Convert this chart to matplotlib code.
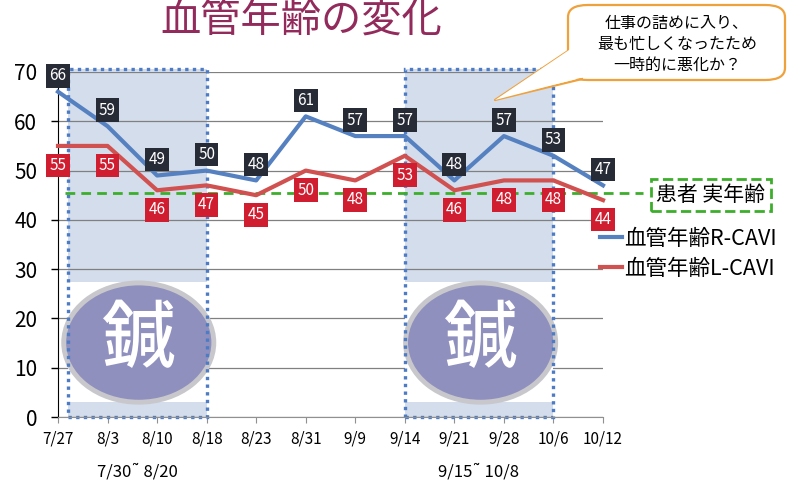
import matplotlib
matplotlib.use("Agg")
import matplotlib.pyplot as plt
from matplotlib import font_manager
from matplotlib.patches import Rectangle, Ellipse, FancyBboxPatch, Polygon
from matplotlib.lines import Line2D

JP = "Noto Sans CJK JP"
avail = {f.name for f in font_manager.fontManager.ttflist}
NARROW = "Liberation Sans Narrow" if "Liberation Sans Narrow" in avail else JP
plt.rcParams["font.family"] = [JP, "DejaVu Sans"]

# data
dates = ["7/27", "8/3", "8/10", "8/18", "8/23", "8/31", "9/9", "9/14",
         "9/21", "9/28", "10/6", "10/12"]
r_cavi = [66, 59, 49, 50, 48, 61, 57, 57, 48, 57, 53, 47]
l_cavi = [55, 55, 46, 47, 45, 50, 48, 53, 46, 48, 48, 44]
real_age = 45.5
period_labels = ["7/30˜ 8/20", "9/15˜ 10/8"]
period_spans = [(0.2, 3.0), (7.0, 10.0)]

BLUE = "#5581C1"
RED = "#D0514F"
GREEN = "#3DAE2B"
SHADE = "#D3DDEB"
W, H = 796, 484


def px(x, y):
    # pixel (from top-left) -> figure fraction
    return x / W, 1 - y / H


fig = plt.figure(figsize=(W / 100, H / 100), dpi=100, facecolor="white")
ax = fig.add_axes([58 / W, 1 - 417 / H, (603 - 58) / W, (417 - 72) / H])
x = list(range(len(dates)))
ax.set_xlim(0, len(dates) - 1)
ax.set_ylim(0, 70)

# grid + spines
ax.set_yticks(range(0, 71, 10))
ax.yaxis.grid(True, color="#808080", lw=0.9, zorder=0.5)
ax.set_axisbelow(True)
for s in ["top", "right"]:
    ax.spines[s].set_visible(False)
ax.spines["left"].set_color("black")
ax.spines["bottom"].set_color("#909090")
ax.tick_params(axis="y", length=5, width=1, pad=10, labelsize=15)
ax.tick_params(axis="x", length=4, width=0.8, color="#909090", pad=6)
ax.set_xticks(x)
ax.set_xticklabels(dates, fontsize=11, family=NARROW)

# treatment periods
for (x0, x1), lab in zip(period_spans, period_labels):
    ax.add_patch(Rectangle((x0, 27.3), x1 - x0, 43.3, fc=SHADE, ec="none",
                           zorder=0.2, clip_on=False))
    ax.add_patch(Rectangle((x0, 0), x1 - x0, 3.1, fc=SHADE, ec="none", zorder=0.2))
    ax.add_patch(Rectangle((x0, 3.1), x1 - x0, 24.2, fc="white", ec="none", zorder=0.8))
    ax.add_patch(Rectangle((x0, 0), x1 - x0, 70.6, fc="none", ec="#4D7CC4", lw=2.4,
                           ls=(0, (1, 1.3)), zorder=1, clip_on=False))
    cx = (x0 + x1) / 2 + 0.03
    ax.add_patch(Ellipse((cx, 15.1), 3.03, 24.2, fc="#8F90BE", ec="#C8C8CC", lw=3.5,
                         zorder=0.9))
    ax.text(cx, 15.3, "鍼", fontsize=53, color="white", ha="center", va="center",
            fontweight="medium", zorder=0.95)
    fig.text(px(58 + 49.5 * (x0 + x1) / 2, 472)[0], px(0, 472)[1], lab,
             fontsize=12, family=[NARROW, "DejaVu Sans"], ha="center", va="center")

# real age reference
ax.plot([0.15, 11.8], [real_age, real_age], color=GREEN, lw=2,
        ls=(0, (3.5, 2.2)), zorder=2, clip_on=False)
fig.text(*px(711, 195), "患者 実年齢", fontsize=15, ha="center", va="center",
         bbox=dict(boxstyle="square,pad=0.25", fc="white", ec=GREEN, lw=2, ls="--"))

# series
ax.plot(x, r_cavi, color=BLUE, lw=3, zorder=3, label="血管年齢R-CAVI", clip_on=False)
ax.plot(x, l_cavi, color=RED, lw=3, zorder=3, label="血管年齢L-CAVI", clip_on=False)
for xi, r, l in zip(x, r_cavi, l_cavi):
    ax.annotate(str(r), (xi, r), textcoords="offset points", xytext=(0, 11.5),
                ha="center", va="center", fontsize=11, color="white", zorder=4,
                bbox=dict(boxstyle="square,pad=0.22", fc="#272B36", ec="none"))
    ax.annotate(str(l), (xi, l), textcoords="offset points", xytext=(0, -14),
                ha="center", va="center", fontsize=11, color="white", zorder=4,
                bbox=dict(boxstyle="square,pad=0.22", fc="#D01E30", ec="none"))

ax.legend(loc="upper left", bbox_to_anchor=px(600, 228), bbox_transform=fig.transFigure,
          frameon=False, fontsize=15.5, handlelength=1.0, handletextpad=0.1,
          labelspacing=0.35, borderaxespad=0, borderpad=0)

# title
fig.text(*px(301, 20), "血管年齢の変化", fontsize=29, color="#922B5C",
         ha="center", va="center")

# callout
x0f, y1f = px(568, 80)
x1f, y0f = px(785, 5)
fig.patches.append(FancyBboxPatch((x0f, y1f), x1f - x0f, y0f - y1f,
                                  boxstyle="round,pad=0,rounding_size=0.025",
                                  transform=fig.transFigure, fc="white",
                                  ec="#EFA13C", lw=1.6, zorder=5))
fig.patches.append(Polygon([px(572, 48), px(495, 100), px(584, 77), px(580, 60)],
                           closed=True, transform=fig.transFigure, fc="white",
                           ec="none", zorder=6))
fig.lines.append(Line2D(*zip(px(568, 51), px(495, 100), px(582, 79)),
                        transform=fig.transFigure, color="#EFA13C", lw=1.6, zorder=6))
fig.text(*px(677, 44), "仕事の詰めに入り、\n最も忙しくなったため\n一時的に悪化か？",
         fontsize=11.5, ha="center", va="center", linespacing=1.3, zorder=7)

fig.savefig("out.png", dpi=100, facecolor="white")
